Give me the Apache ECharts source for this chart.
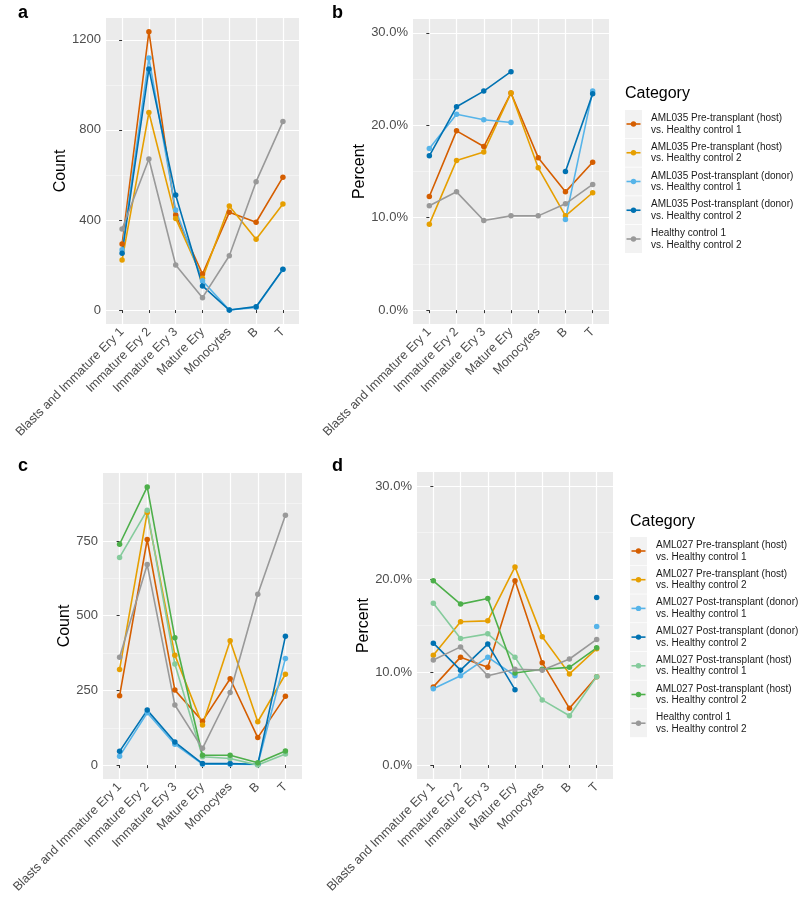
<!DOCTYPE html>
<html><head><meta charset="utf-8">
<script src="https://cdn.jsdelivr.net/npm/echarts@6/dist/echarts.min.js"></script>
<style>html,body{margin:0;padding:0;background:#fff}#c{width:800px;height:914px}</style>
</head><body><div id="c"></div>
<script>
const categories = ['Blasts and Immature Ery 1','Immature Ery 2','Immature Ery 3','Mature Ery','Monocytes','B','T'];

// Panel a: AML035 counts
const a_pre_hc1  = [293, 1236, 422, 160, 434, 390, 590];
const a_pre_hc2  = [222, 877, 407, 141, 462, 314, 471];
const a_post_hc1 = [268, 1119, 444, 130, 0, 12, 180];
const a_post_hc2 = [252, 1071, 511, 107, 0, 15, 181];
const a_hc       = [360, 671, 200, 55, 241, 570, 837];

// Panel b: AML035 percent
const b_pre_hc1  = [12.3, 19.4, 17.7, 23.5, 16.5, 12.8, 16.0];
const b_pre_hc2  = [9.3, 16.2, 17.1, 23.5, 15.4, 10.2, 12.7];
const b_post_hc1 = [17.5, 21.2, 20.6, 20.3, null, 9.8, 23.7];
const b_post_hc2 = [16.7, 22.0, 23.7, 25.8, null, 15.0, 23.4];
const b_hc       = [11.3, 12.8, 9.7, 10.2, 10.2, 11.5, 13.6];

// Panel c: AML027 counts
const c_pre_hc1   = [232, 755, 251, 147, 289, 92, 230];
const c_pre_hc2   = [320, 845, 368, 134, 416, 145, 304];
const c_postd_hc1 = [30, 175, 70, 3, 3, 2, 357];
const c_postd_hc2 = [46, 184, 77, 5, 5, 3, 431];
const c_posth_hc1 = [695, 853, 338, 28, 22, 0, 37];
const c_posth_hc2 = [739, 931, 426, 33, 33, 8, 47];
const c_hc        = [361, 671, 201, 56, 243, 572, 836];

// Panel d: AML027 percent
const d_pre_hc1   = [8.4, 11.6, 10.5, 19.8, 11.0, 6.1, 9.5];
const d_pre_hc2   = [11.8, 15.4, 15.5, 21.3, 13.8, 9.8, 12.5];
const d_postd_hc1 = [8.2, 9.6, 11.6, 9.6, null, null, 14.9];
const d_postd_hc2 = [13.1, 10.2, 13.0, 8.1, null, null, 18.0];
const d_posth_hc1 = [17.4, 13.6, 14.1, 11.6, 7.0, 5.3, 9.5];
const d_posth_hc2 = [19.8, 17.3, 17.9, 9.9, 10.3, 10.5, 12.6];
const d_hc        = [11.3, 12.7, 9.6, 10.3, 10.2, 11.4, 13.5];

// tick labels
const countTicksA = [0, 400, 800, 1200];
const countMinorA = [200, 600, 1000];
const countTicksC = [0, 250, 500, 750];
const countMinorC = [125, 375, 625, 875];
const pctTicks = [0, 10, 20, 30];
const pctMinor = [5, 15, 25];

const names035 = [
  'AML035 Pre-transplant (host)\nvs. Healthy control 1',
  'AML035 Pre-transplant (host)\nvs. Healthy control 2',
  'AML035 Post-transplant (donor)\nvs. Healthy control 1',
  'AML035 Post-transplant (donor)\nvs. Healthy control 2',
  'Healthy control 1\nvs. Healthy control 2'
];
const names027 = [
  'AML027 Pre-transplant (host)\nvs. Healthy control 1',
  'AML027 Pre-transplant (host)\nvs. Healthy control 2',
  'AML027 Post-transplant (donor)\nvs. Healthy control 1',
  'AML027 Post-transplant (donor)\nvs. Healthy control 2',
  'AML027 Post-transplant (host)\nvs. Healthy control 1',
  'AML027 Post-transplant (host)\nvs. Healthy control 2',
  'Healthy control 1\nvs. Healthy control 2'
];
const colors035 = ['#D55E00', '#E69F00', '#56B4E9', '#0072B2', '#999999'];
const colors027 = ['#D55E00', '#E69F00', '#56B4E9', '#0072B2', '#85CB9C', '#4DAF4A', '#999999'];

const FONT = '"Liberation Sans", Arial, sans-serif';
const grids = [
  {left: 106, top: 18, width: 193, height: 306},
  {left: 413, top: 19, width: 196, height: 305},
  {left: 103, top: 473, width: 199, height: 306},
  {left: 417, top: 472, width: 196, height: 307}
];
const yRanges = [[-62, 1297], [-1.5, 31.5], [-46.5, 977.5], [-1.5, 31.5]];
const yTicks = [countTicksA, pctTicks, countTicksC, pctTicks];
const yMinor = [countMinorA, pctMinor, countMinorC, pctMinor];
const yNames = ['Count', 'Percent', 'Count', 'Percent'];
const yNameGaps = [30, 38, 23, 38];
const isPct = [false, true, false, true];

const xIdx = categories.map((_, i) => i);
const xAxes = grids.map((g, gi) => ({
  type: 'value', gridIndex: gi, min: -0.6, max: 6.6,
  axisLine: {show: false},
  axisTick: {show: true, customValues: xIdx, length: 3, lineStyle: {color: '#333333', width: 1}},
  axisLabel: {customValues: xIdx, rotate: 45, margin: 6, color: '#4D4D4D', fontSize: 12.5, fontFamily: FONT,
    formatter: v => categories[Math.round(v)]},
  splitLine: {show: true, lineStyle: {color: '#FFFFFF', width: 1.2}}
}));
const yAxes = [];
grids.forEach((g, gi) => {
  yAxes.push({
    type: 'value', gridIndex: gi, min: yRanges[gi][0], max: yRanges[gi][1],
    name: yNames[gi], nameLocation: 'middle', nameRotate: 90, nameGap: yNameGaps[gi],
    nameTextStyle: {fontSize: 16, color: '#000', fontFamily: FONT},
    axisLine: {show: false},
    axisTick: {show: true, customValues: yTicks[gi], length: 3, lineStyle: {color: '#333333', width: 1}},
    axisLabel: {customValues: yTicks[gi], margin: 5, color: '#4D4D4D', fontSize: 13, fontFamily: FONT,
      formatter: v => isPct[gi] ? v.toFixed(1) + '%' : String(v)},
    splitLine: {show: true, lineStyle: {color: '#FFFFFF', width: 1.2}}
  });
  yAxes.push({
    type: 'value', gridIndex: gi, min: yRanges[gi][0], max: yRanges[gi][1], position: 'left',
    axisLine: {show: false},
    axisTick: {show: false, customValues: yMinor[gi]},
    axisLabel: {show: false, customValues: yMinor[gi]},
    splitLine: {show: true, lineStyle: {color: '#F5F5F5', width: 0.8}}
  });
});

function mk(name, vals, color, gi) {
  return {
    type: 'line', name, xAxisIndex: gi, yAxisIndex: gi * 2,
    data: vals.map((v, i) => [i, v == null ? '-' : v]),
    symbol: 'circle', symbolSize: 5.5, connectNulls: false,
    lineStyle: {width: 1.6, color}, itemStyle: {color}, emphasis: {disabled: true}
  };
}
const dataA = [a_pre_hc1, a_pre_hc2, a_post_hc1, a_post_hc2, a_hc];
const dataB = [b_pre_hc1, b_pre_hc2, b_post_hc1, b_post_hc2, b_hc];
const dataC = [c_pre_hc1, c_pre_hc2, c_postd_hc1, c_postd_hc2, c_posth_hc1, c_posth_hc2, c_hc];
const dataD = [d_pre_hc1, d_pre_hc2, d_postd_hc1, d_postd_hc2, d_posth_hc1, d_posth_hc2, d_hc];
const series = [];
dataA.forEach((d, i) => series.push(mk(names035[i], d, colors035[i], 0)));
dataB.forEach((d, i) => series.push(mk(names035[i], d, colors035[i], 1)));
dataC.forEach((d, i) => series.push(mk(names027[i], d, colors027[i], 2)));
dataD.forEach((d, i) => series.push(mk(names027[i], d, colors027[i], 3)));

function legendGraphic(x, titleY, firstY, pitch, names, colors, textX) {
  const els = [{type: 'text', left: x, top: titleY - 9,
    style: {text: 'Category', font: '16px ' + FONT, fill: '#000'}}];
  names.forEach((n, i) => {
    const cy = firstY + i * pitch;
    els.push({type: 'rect', shape: {x: x, y: cy - 14, width: 17, height: 28}, style: {fill: '#F2F2F2'}});
    els.push({type: 'line', shape: {x1: x + 1.5, y1: cy, x2: x + 15.5, y2: cy}, style: {stroke: colors[i], lineWidth: 1.6}});
    els.push({type: 'circle', shape: {cx: x + 8.5, cy: cy, r: 2.7}, style: {fill: colors[i]}});
    els.push({type: 'text', x: textX, y: cy, style: {text: n, font: '10px ' + FONT, fill: '#1A1A1A',
      verticalAlign: 'middle', lineHeight: 11.5}});
  });
  return els;
}

const titleStyle = {fontSize: 18, fontWeight: 'bold', color: '#000', fontFamily: FONT};
const chart = echarts.init(document.getElementById('c'), null, {renderer: 'canvas'});
chart.setOption({
  animation: false,
  backgroundColor: '#FFFFFF',
  title: [
    {text: 'a', left: 18, top: 4, padding: 0, textStyle: titleStyle},
    {text: 'b', left: 332, top: 4, padding: 0, textStyle: titleStyle},
    {text: 'c', left: 18, top: 457, padding: 0, textStyle: titleStyle},
    {text: 'd', left: 332, top: 457, padding: 0, textStyle: titleStyle}
  ],
  grid: grids.map(g => Object.assign({show: true, backgroundColor: '#EBEBEB', borderWidth: 0}, g)),
  xAxis: xAxes,
  yAxis: yAxes,
  series: series,
  graphic: [].concat(
    legendGraphic(625, 95, 124, 28.75, names035, colors035, 651),
    legendGraphic(630, 523, 551, 28.7, names027, colors027, 656)
  )
});
</script></body></html>
